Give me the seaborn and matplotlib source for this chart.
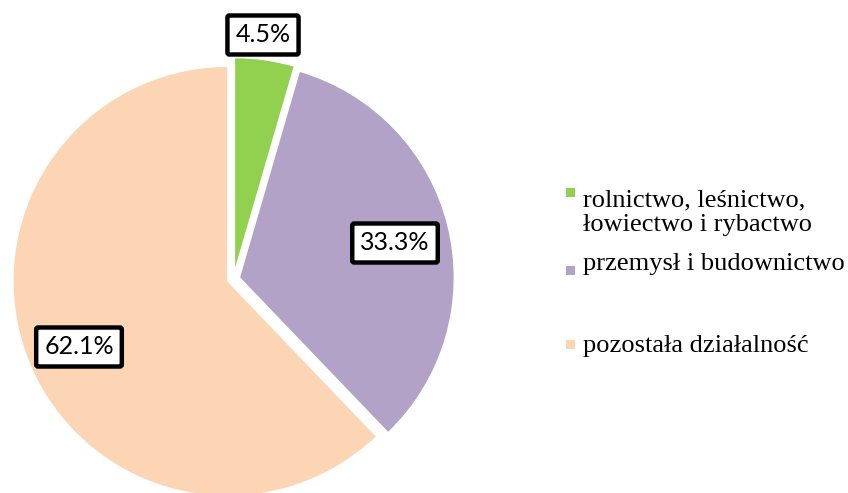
import matplotlib
matplotlib.use("Agg")
import matplotlib.pyplot as plt
from matplotlib.patches import Rectangle
import seaborn as sns

# Structure of employment by economic sector (%)
categories = [
    "rolnictwo, leśnictwo,\nłowiectwo i rybactwo",
    "przemysł i budownictwo",
    "pozostała działalność",
]
shares = [4.5, 33.3, 62.1]
colors = ["#92D050", "#B3A2C7", "#FCD5B5"]

sns.set_theme(style="white")
plt.rcParams["font.family"] = ["Lato", "DejaVu Sans"]

W, H = 848, 493
fig = plt.figure(figsize=(W / 100, H / 100), dpi=100)
ax = fig.add_axes([0, 0, 1, 1])

radius = 215
center = (233.5, H - 279)
# explode offsets are in data units (pixels here)
explode = [6.5, 6, 6]

wedges, _ = ax.pie(
    shares,
    colors=colors,
    startangle=90,
    counterclock=False,
    radius=radius,
    center=center,
    explode=explode,
    wedgeprops=dict(edgecolor="white", linewidth=1.0),
    frame=True,
)
ax.set_xlim(0, W)
ax.set_ylim(0, H)
ax.set_aspect("equal")
ax.axis("off")

# Boxed percentage labels
label_pos = [(263, H - 35), (395, H - 243), (79, H - 347)]
for v, (x, y) in zip(shares, label_pos):
    ax.text(
        x, y, f"{v:.1f}%",
        ha="center", va="center", fontsize=18, color="black",
        family=["Lato", "DejaVu Sans"],
        bbox=dict(boxstyle="round,pad=0.32,rounding_size=0.08",
                  fc="white", ec="black", lw=3.2),
    )

# Legend on the right
legend_rows = [(H - 192, H - 231), (H - 270, H - 270), (H - 344, H - 352)]
for cat, col, (my, ty) in zip(categories, colors, legend_rows):
    ax.add_patch(Rectangle((566, my - 4.5), 9, 9, fc=col, ec="none"))
    ax.text(
        583, ty, cat, ha="left", va="baseline", fontsize=19,
        family=["Liberation Serif", "DejaVu Serif"], color="black",
        linespacing=1.15,
    )

fig.savefig("out.png", dpi=100)
